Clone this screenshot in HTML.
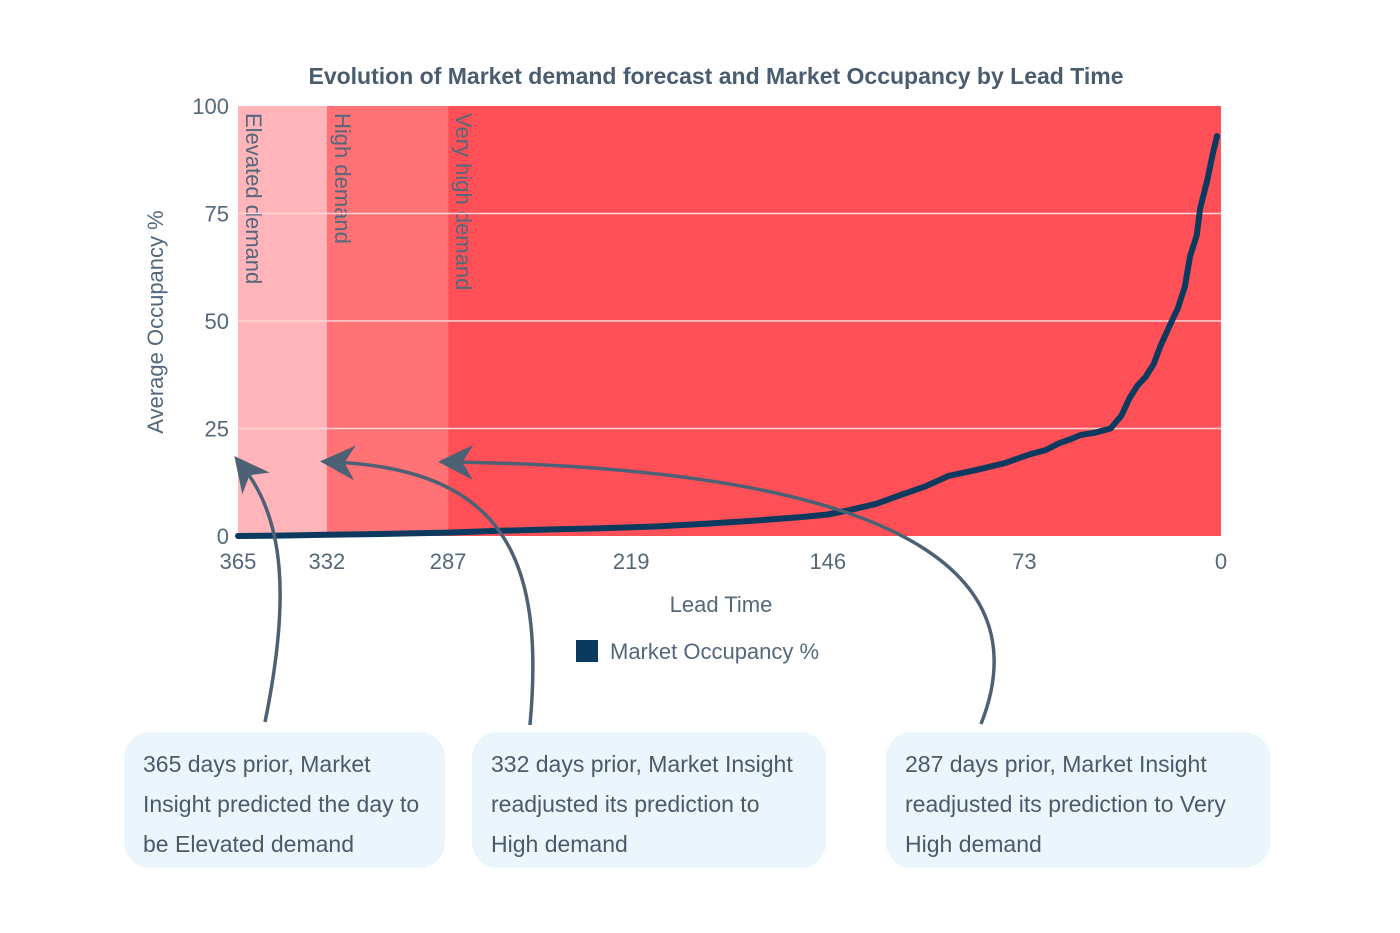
<!DOCTYPE html>
<html><head><meta charset="utf-8"><style>
body{margin:0;background:#fff;width:1400px;height:933px;overflow:hidden;font-family:"Liberation Sans",sans-serif}
.box{position:absolute;background:#eaf6fc;border-radius:26px;color:#4a5a6b;font-size:23px;line-height:40px;padding:12px 19px;box-sizing:border-box}
</style></head><body>
<svg id="chart" width="1400" height="933" style="position:absolute;left:0;top:0" font-family="Liberation Sans, sans-serif">
<text x="716" y="84" text-anchor="middle" font-size="23" font-weight="bold" fill="#4a5d70">Evolution of Market demand forecast and Market Occupancy by Lead Time</text>
<g id="bands"></g><g id="grid"></g><g id="yt"></g><g id="xt"></g>
<text transform="translate(163,322) rotate(-90)" text-anchor="middle" font-size="22" fill="#55677a">Average Occupancy %</text>
<text x="721" y="612" text-anchor="middle" font-size="22" fill="#55677a">Lead Time</text>
<rect x="576" y="640" width="22" height="22" fill="#0b3a5e"/>
<text x="610" y="659" font-size="22" fill="#55677a">Market Occupancy %</text>
<path id="line" fill="none" stroke="#0b3a5e" stroke-width="6" stroke-linejoin="round" stroke-linecap="round"/>
<defs><marker id="ah" markerWidth="10" markerHeight="10" refX="6" refY="5" orient="auto"><path d="M0,0 L10,5 L0,10 L3,5 Z" fill="#4d6174"/></marker></defs>
<g fill="none" stroke="#4d6174" stroke-width="3.5">
<path d="M265 722 C290 600 285 520 243 467" marker-end="url(#ah)"/>
<path d="M530 725 C545 560 505 470 334 462" marker-end="url(#ah)"/>
<path d="M981 724 C1030 600 960 470 452 462" marker-end="url(#ah)"/>
</g>
</svg>
<div class="box" style="left:124px;top:732px;width:321px;height:136px">365 days prior, Market Insight predicted the day to be Elevated demand</div>
<div class="box" style="left:472px;top:732px;width:354px;height:136px">332 days prior, Market Insight readjusted its prediction to High demand</div>
<div class="box" style="left:886px;top:732px;width:384px;height:136px">287 days prior, Market Insight readjusted its prediction to Very High demand</div>
<script>
const leadDays=[365,350,332,310,287,268,250,230,210,193,175,156,146,138,128,119,110,101,90,80,71,65,60,56,52,47,41,37,34,31,28,25,22.6,19,16,13.4,11.5,9,7.8,5,3,1.5];
const occupancy=[0,0.1,0.3,0.5,0.8,1.2,1.5,1.8,2.2,2.8,3.5,4.4,5,6,7.5,9.5,11.5,14,15.5,17,19,20,21.6,22.5,23.5,24,25,28,32,35,37,40,44,49,53,58,65,70,76,83,89,93];
const yTicks=[0,25,50,75,100];
const xTicks=[365,332,287,219,146,73,0];
const bandStarts=[365,332,287];
const bandEnds=[332,287,0];
const bandLabels=["Elevated demand","High demand","Very high demand"];
const bandColors=["#ffb5b9","#ff7275","#ff5058"];
const X0=238,X1=1221,Y0=536,Y1=106;
const sx=d=>X0+(365-d)/365*(X1-X0);
const sy=v=>Y0-v/100*(Y0-Y1);
const NS="http://www.w3.org/2000/svg";
function mk(t,p,a){const e=document.createElementNS(NS,t);for(const k in a)e.setAttribute(k,a[k]);p.appendChild(e);return e;}
const bands=document.getElementById('bands');
bandStarts.forEach((s,i)=>{
 const r=mk('rect',bands,{x:sx(s),y:Y1,width:sx(bandEnds[i])-sx(s),height:Y0-Y1,fill:bandColors[i]});
 
 
 const t=mk('text',bands,{transform:`translate(${sx(s)+8},${Y1+7}) rotate(90)`,'font-size':22,fill:'#55677a'});
 
 
 t.textContent=bandLabels[i];
});
const grid=document.getElementById('grid'),yt=document.getElementById('yt'),xt=document.getElementById('xt');
yTicks.forEach(v=>{
 if(v>0&&v<100){const l=mk('line',grid,{x1:X0,x2:X1,y1:sy(v),y2:sy(v),stroke:'#ffd6d8','stroke-width':1.5});
 
 }
 const t=mk('text',yt,{x:229,y:sy(v)+8,'text-anchor':'end','font-size':22,fill:'#55677a'});
 
 
 t.textContent=v;
});
xTicks.forEach(d=>{
 const t=mk('text',xt,{x:sx(d),y:569,'text-anchor':'middle','font-size':22,fill:'#55677a'});
 
 
 t.textContent=d;
});
document.getElementById('line').setAttribute('d',leadDays.map((d,i)=>(i?'L':'M')+sx(d).toFixed(1)+' '+sy(occupancy[i]).toFixed(1)).join(' '));
</script>
</body></html>
